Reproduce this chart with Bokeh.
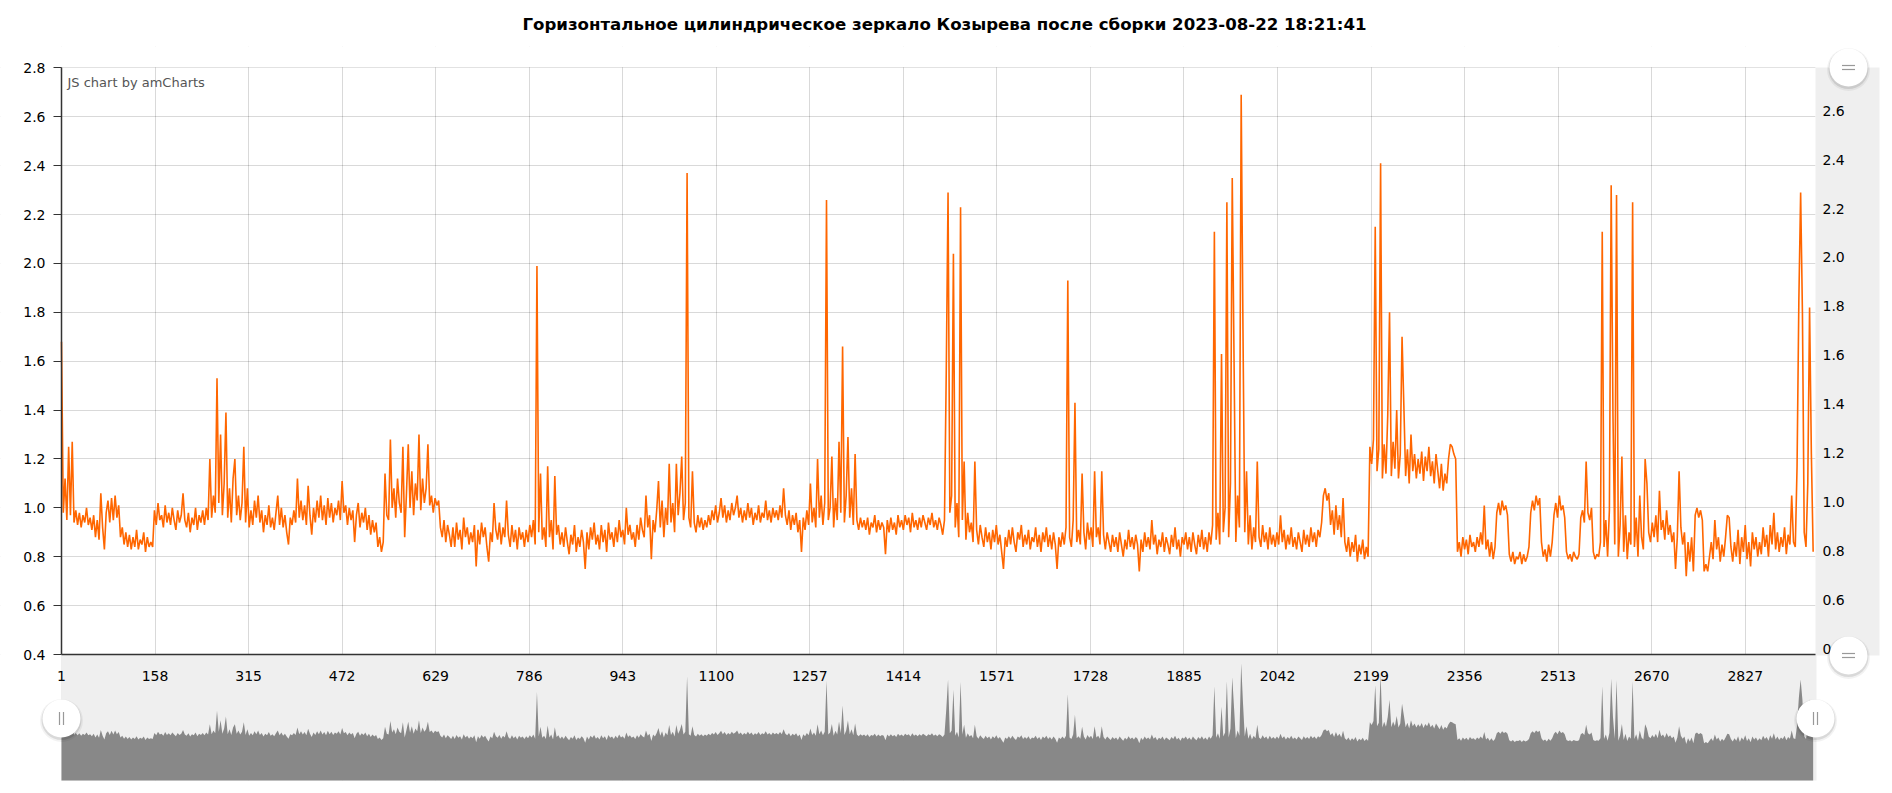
import math
from bokeh.plotting import figure
from bokeh.models import Range1d, LinearAxis, FixedTicker, Label, Grid, PrintfTickFormatter
from bokeh.embed import file_html
from bokeh.resources import INLINE

TITLE = "Горизонтальное цилиндрическое зеркало Козырева после сборки 2023-08-22 18:21:41"
CREDIT = "JS chart by amCharts"

x_ticks = [1, 158, 315, 472, 629, 786, 943, 1100, 1257, 1414, 1571, 1728,
           1885, 2042, 2199, 2356, 2513, 2670, 2827]
y_ticks = [0.4, 0.6, 0.8, 1.0, 1.2, 1.4, 1.6, 1.8, 2.0, 2.2, 2.4, 2.6, 2.8]
right_ticks = [0.4, 0.6, 0.8, 1.0, 1.2, 1.4, 1.6, 1.8, 2.0, 2.2, 2.4, 2.6]

# sample positions along the category axis (every 3rd record)
sample_index = list(range(1, 2942, 3))

values = [
    1.68, 0.98, 1.12, 0.95, 1.25, 0.97, 1.27, 0.94, 0.99, 0.93,
    0.98, 0.92, 0.97, 0.94, 1.00, 0.93, 0.96, 0.91, 0.97, 0.88,
    0.95, 0.87, 1.06, 0.92, 0.83, 0.98, 1.03, 0.94, 1.04, 0.95,
    1.05, 0.96, 1.01, 0.88, 0.92, 0.85, 0.90, 0.84, 0.89, 0.83,
    0.88, 0.84, 0.91, 0.83, 0.87, 0.85, 0.90, 0.82, 0.88, 0.84,
    0.86, 0.84, 0.99, 0.93, 1.02, 0.95, 0.97, 0.92, 1.01, 0.94,
    0.98, 0.93, 1.00, 0.95, 0.91, 0.99, 0.94, 0.97, 1.06, 0.95,
    0.92, 0.98, 0.90, 0.96, 0.93, 1.00, 0.91, 0.97, 0.94, 0.99,
    0.93, 1.00, 0.95, 1.20, 0.96, 1.05, 0.98, 1.53, 1.02, 1.30,
    0.97, 1.10, 1.39, 0.96, 1.08, 0.94, 1.12, 1.20, 0.97, 1.05,
    0.95, 1.02, 1.25, 0.94, 1.08, 0.92, 0.99, 0.93, 1.03, 0.96,
    1.05, 0.94, 0.99, 0.90, 0.97, 0.93, 1.01, 0.92, 0.96, 0.91,
    0.98, 1.05, 0.93, 1.00, 0.92, 0.97, 0.90, 0.85, 0.96, 0.93,
    0.99, 0.94, 1.12, 0.96, 1.03, 0.95, 1.01, 0.93, 1.09, 0.97,
    0.89, 1.00, 0.94, 1.03, 0.96, 1.05, 0.95, 1.01, 0.93, 1.04,
    0.96, 1.02, 0.94, 1.00, 0.97, 1.03, 0.95, 1.11, 0.98, 1.01,
    0.93, 1.00, 0.95, 0.99, 0.86, 0.97, 1.02, 0.92, 0.98, 0.94,
    1.00, 0.91, 0.97, 0.89, 0.95, 0.90, 0.94, 0.84, 0.88, 0.82,
    0.86, 1.14, 0.97, 0.95, 1.28, 1.00, 1.08, 0.96, 1.12, 1.02,
    0.98, 1.25, 0.88, 1.06, 1.26, 1.00, 1.15, 0.97, 1.10, 1.03,
    1.30, 0.99, 1.12, 1.02, 1.08, 1.26, 1.01, 1.05, 0.98, 1.04,
    1.01, 1.03, 0.92, 0.88, 0.95, 0.86, 0.93, 0.89, 0.84, 0.92,
    0.84, 0.94, 0.87, 0.91, 0.83, 0.96, 0.88, 0.92, 0.85, 0.90,
    0.86, 0.93, 0.76, 0.91, 0.85, 0.94, 0.88, 0.92, 0.84, 0.78,
    0.90, 0.86, 1.02, 0.91, 0.87, 0.94, 0.85, 0.92, 0.88, 1.03,
    0.89, 0.84, 0.93, 0.86, 0.91, 0.83, 0.92, 0.87, 0.90, 0.84,
    0.91, 0.86, 0.93, 0.88, 0.95, 0.85, 1.99, 0.90, 1.14, 0.87,
    0.92, 0.84, 1.17, 0.88, 0.95, 0.83, 1.13, 0.89, 0.93, 0.85,
    0.90, 0.84, 0.92, 0.86, 0.81, 0.89, 0.85, 0.93, 0.82, 0.88,
    0.84, 0.91, 0.86, 0.75, 0.90, 0.83, 0.92, 0.87, 0.94, 0.85,
    0.89, 0.83, 0.93, 0.86, 0.91, 0.82, 0.94, 0.87, 0.90, 0.84,
    0.92, 0.86, 0.95, 0.88, 0.91, 0.85, 1.00, 0.89, 0.93, 0.87,
    0.90, 0.84, 0.93, 0.87, 0.96, 0.91, 0.88, 1.05, 0.92, 0.97,
    0.79, 0.95, 0.90, 0.99, 1.11, 0.92, 1.03, 0.88, 1.00, 0.93,
    1.18, 0.94, 1.02, 0.90, 1.18, 0.97, 1.06, 1.21, 0.95, 1.02,
    2.37, 0.96, 0.92, 1.15, 0.94, 0.90, 0.97, 0.92, 0.96, 0.91,
    0.95, 0.92, 0.97, 0.93, 0.99, 0.95, 1.01, 0.94, 0.98, 1.04,
    0.96, 1.01, 0.94, 0.99, 0.95, 1.02, 0.97, 1.00, 1.05, 0.96,
    1.00, 0.94, 0.99, 0.95, 1.02, 0.96, 1.00, 0.93, 0.98, 0.95,
    1.01, 0.94, 0.98, 0.96, 1.03, 0.95, 0.99, 0.94, 1.00, 0.96,
    0.99, 0.95, 1.01, 0.96, 1.08, 0.97, 0.93, 0.99, 0.91, 0.97,
    0.93, 0.98, 0.90, 0.95, 0.82, 0.96, 0.91, 0.99, 0.93, 1.10,
    0.94, 1.00, 0.92, 1.20, 0.96, 1.05, 0.93, 1.02, 2.26, 0.95,
    1.00, 1.21, 0.92, 1.04, 0.95, 1.27, 0.98, 1.66, 0.94, 1.05,
    1.29, 0.96, 1.08, 0.93, 1.22, 0.95, 0.91, 0.96, 0.92, 0.95,
    0.91, 0.96, 0.89, 0.94, 0.92, 0.97, 0.90, 0.95, 0.91, 0.94,
    0.92, 0.81, 0.95, 0.90, 0.96, 0.91, 0.94, 0.89, 0.97, 0.92,
    0.95, 0.91, 0.97, 0.93, 0.96, 0.90, 0.98, 0.92, 0.95, 0.91,
    0.96, 0.92, 0.97, 0.94, 0.91, 0.96, 0.93, 0.98, 0.92, 0.95,
    0.91, 0.96, 0.93, 0.89, 0.95, 1.56, 2.29, 0.98, 1.05, 2.04,
    0.92, 1.02, 0.88, 2.23, 0.95, 1.19, 0.87, 0.98, 0.90, 0.94,
    0.86, 1.19, 0.91, 0.85, 0.93, 0.88, 0.84, 0.92, 0.86, 0.90,
    0.83, 0.91, 0.86, 0.93, 0.85, 0.89, 0.82, 0.75, 0.88, 0.84,
    0.91, 0.85, 0.92, 0.86, 0.82, 0.90, 0.87, 0.93, 0.84, 0.89,
    0.85, 0.91, 0.83, 0.88, 0.86, 0.92, 0.84, 0.89, 0.82, 0.90,
    0.86, 0.92, 0.84, 0.89, 0.83, 0.90, 0.85, 0.75, 0.88, 0.84,
    0.90, 0.85, 0.92, 1.93, 0.88, 0.84, 0.95, 1.43, 0.86, 0.91,
    0.85, 1.14, 0.90, 0.83, 0.94, 0.87, 0.92, 0.84, 1.15, 0.88,
    0.92, 0.85, 1.15, 0.89, 0.83, 0.90, 0.86, 0.82, 0.89, 0.84,
    0.88, 0.82, 0.90, 0.85, 0.80, 0.87, 0.83, 0.91, 0.84, 0.88,
    0.83, 0.89, 0.85, 0.74, 0.87, 0.82, 0.90, 0.84, 0.88, 0.83,
    0.95, 0.85, 0.89, 0.81, 0.87, 0.84, 0.90, 0.82, 0.88, 0.85,
    0.81, 0.89, 0.84, 0.92, 0.83, 0.87, 0.80, 0.88, 0.85, 0.90,
    0.83, 0.88, 0.82, 0.90, 0.85, 0.81, 0.89, 0.84, 0.91, 0.83,
    0.88, 0.82, 0.90, 0.85, 0.93, 2.13, 0.87, 0.98, 0.85, 1.63,
    0.90, 1.00, 2.25, 0.88, 1.10, 2.35, 1.61, 0.86, 1.05, 0.92,
    2.69, 1.73, 0.90, 1.15, 0.85, 0.97, 0.83, 0.92, 0.86, 1.19,
    0.88, 0.84, 0.93, 0.86, 0.90, 0.83, 0.92, 0.85, 0.89, 0.84,
    0.90, 0.85, 0.97, 0.86, 0.91, 0.83, 0.89, 0.85, 0.92, 0.84,
    0.88, 0.83, 0.90, 0.86, 0.82, 0.91, 0.85, 0.89, 0.84, 0.92,
    0.86, 0.90, 0.84, 0.91, 0.88, 0.94, 1.05, 1.08, 1.03, 1.06,
    0.93, 0.99, 0.89, 1.01, 0.91, 0.97, 0.88, 1.04, 0.86, 0.82,
    0.88, 0.80, 0.86, 0.82, 0.89, 0.78, 0.85, 0.81, 0.87, 0.79,
    0.84, 0.80, 1.25, 1.18, 1.28, 2.15, 1.15, 1.24, 2.41, 1.12,
    1.26, 1.14, 1.38, 1.80, 1.13, 1.27, 1.16, 1.40, 1.12, 1.22,
    1.70, 1.42, 1.13, 1.24, 1.10, 1.30, 1.15, 1.22, 1.12, 1.20,
    1.14, 1.23, 1.11, 1.21, 1.15, 1.25, 1.13, 1.19, 1.10, 1.22,
    1.15, 1.08, 1.18, 1.07, 1.14, 1.10, 1.20, 1.26, 1.25, 1.22,
    1.20, 0.82, 0.86, 0.80, 0.88, 0.83, 0.87, 0.81, 0.89, 0.84,
    0.86, 0.82, 0.88, 0.84, 0.90, 0.85, 1.01, 0.83, 0.87, 0.80,
    0.86, 0.79, 0.84, 0.98, 1.02, 0.97, 1.03, 0.99, 1.01, 0.97,
    0.81, 0.78, 0.82, 0.77, 0.80, 0.79, 0.82, 0.77, 0.81, 0.78,
    0.80, 0.84, 0.98, 1.03, 0.99, 1.05, 1.01, 1.04, 0.86, 0.80,
    0.83, 0.78, 0.85, 0.80, 0.86, 0.97, 1.02, 0.96, 1.05, 0.99,
    1.01, 0.96, 0.82, 0.79, 0.81, 0.78, 0.82, 0.80, 0.79, 0.81,
    0.96, 0.99, 0.94, 1.19, 0.98, 0.95, 1.00, 0.82, 0.79, 0.81,
    0.80, 0.86, 2.13, 0.84, 0.95, 0.80, 0.99, 2.32, 1.38, 0.85,
    2.28, 0.80, 0.93, 1.21, 0.82, 0.97, 0.79, 0.90, 0.85, 2.25,
    0.84, 0.96, 0.80, 1.05, 0.88, 0.83, 1.20, 1.10, 0.90, 0.86,
    0.94, 0.88, 0.97, 0.86, 1.07, 0.91, 0.95, 0.87, 0.99, 0.89,
    0.93, 0.86, 0.90, 0.75, 0.88, 1.15, 0.92, 0.85, 0.90, 0.72,
    0.86, 0.78, 0.88, 0.74, 0.97, 1.00, 0.96, 0.99, 0.95, 0.74,
    0.77, 0.74, 0.80, 0.86, 0.79, 0.95, 0.83, 0.88, 0.78, 0.85,
    0.80, 0.88, 0.97, 0.96, 0.84, 0.78, 0.86, 0.80, 0.91, 0.77,
    0.88, 0.82, 0.93, 0.79, 0.86, 0.76, 0.90, 0.83, 0.88, 0.80,
    0.86, 0.81, 0.92, 0.84, 0.89, 0.80, 0.93, 0.85, 0.98, 0.83,
    0.90, 0.82, 0.88, 0.84, 0.92, 0.81, 0.89, 0.85, 1.05, 0.86,
    0.84, 1.17, 1.85, 2.29, 1.80, 0.90, 0.84, 1.10, 1.82, 1.22,
    0.82,
]

# ---------------- layout constants (page pixels) ----------------
FRAME_L, FRAME_R, FRAME_T, FRAME_B = 0, 1888, 45, 790
X1_PX, PX_PER_IDX = 61.0, 0.5958
Y04_PX, PX_PER_UNIT = 653.0, 244.4
SCROLL_BOT_PX = 779.0
SCROLL_ZERO_PX, SCROLL_PX_PER_UNIT = 772.0, 41.0
PLOT_R_PX = 1815.0
PANEL_R_PX = 1879.0
LABEL_SHIFT_PX = 6.0


def xd(px):
    return 1 + (px - X1_PX) / PX_PER_IDX


def yd(px):
    return 0.4 + (Y04_PX - px) / PX_PER_UNIT


def sd(px):
    return (SCROLL_ZERO_PX - px) / SCROLL_PX_PER_UNIT


xs, xe = xd(FRAME_L), xd(FRAME_R)
ys, ye = yd(FRAME_B), yd(FRAME_T)
shift = LABEL_SHIFT_PX / PX_PER_UNIT

p = figure(
    frame_width=FRAME_R - FRAME_L, frame_height=FRAME_B - FRAME_T,
    x_range=Range1d(xs, xe), y_range=Range1d(ys, ye),
    x_axis_location=None, y_axis_location=None,
    min_border_left=0, min_border_right=0, min_border_bottom=0,
    min_border_top=FRAME_T,
    toolbar_location=None, output_backend="svg",
    outline_line_color=None, background_fill_color="white",
    border_fill_color="white", title=TITLE,
)
p.extra_y_ranges = {
    "scroll": Range1d(sd(FRAME_B), sd(FRAME_T)),
    "right": Range1d(ys - shift, ye - shift),
}

p.title.align = "center"
p.title.offset = 8
p.title.text_font = "DejaVu Sans"
p.title.text_font_style = "bold"
p.title.text_font_size = "16.6px"
p.title.text_color = "#000000"
p.title.standoff = 25

# remove auto grids, add own
p.center = []
p.add_layout(Grid(dimension=0, ticker=FixedTicker(ticks=x_ticks),
                  grid_line_color="black", grid_line_alpha=0.15))
p.add_layout(Grid(dimension=1, ticker=FixedTicker(ticks=y_ticks),
                  grid_line_color="black", grid_line_alpha=0.15))

# covers outside plotting area (hide grid outside)
W = dict(fill_color="white", line_color=None)
p.quad(left=[xs], right=[1], bottom=[ys], top=[ye], **W)
p.quad(left=[xs], right=[xe], bottom=[2.8 + 0.8 / PX_PER_UNIT], top=[ye], **W)
p.quad(left=[xs], right=[xe], bottom=[ys], top=[yd(SCROLL_BOT_PX)], **W)
p.quad(left=[xd(PLOT_R_PX)], right=[xe], bottom=[ys], top=[ye], **W)
# right axis panel
p.quad(left=[xd(PLOT_R_PX)], right=[xd(PANEL_R_PX)], bottom=[yd(654)], top=[yd(66)],
       fill_color="#EFEFEF", line_color=None)
# scrollbar background
p.quad(left=[1], right=[xd(1816)], bottom=[yd(SCROLL_BOT_PX)], top=[0.4],
       fill_color="#EFEFEF", line_color=None)

# scrollbar preview graph
p.varea(x=sample_index, y1=sd(SCROLL_BOT_PX), y2=values, y_range_name="scroll",
        fill_color="#888888", fill_alpha=1.0)

# main series
p.line(sample_index, values, line_color="#FF6600", line_width=1.6)

TICK_FONT = "DejaVu Sans"
fmt = PrintfTickFormatter(format="%.1f")
left_axis = LinearAxis(
    fixed_location=1, ticker=FixedTicker(ticks=y_ticks), bounds=(0.4, 2.8),
    formatter=fmt,
    axis_line_color="#333333", axis_line_width=1.5,
    major_tick_line_color="#333333", major_tick_out=8, major_tick_in=0,
    minor_tick_line_color=None, major_label_standoff=8,
    major_label_text_font=TICK_FONT, major_label_text_font_size="14px",
    major_label_text_color="#000000",
)
p.add_layout(left_axis, "left")

bottom_axis = LinearAxis(
    fixed_location=0.4, ticker=FixedTicker(ticks=x_ticks), bounds=(1, xd(PLOT_R_PX)),
    axis_line_color="#333333", axis_line_width=1.5,
    major_tick_line_color=None, major_tick_out=0, major_tick_in=0,
    minor_tick_line_color=None, major_label_standoff=16,
    major_label_text_font=TICK_FONT, major_label_text_font_size="14px",
    major_label_text_color="#000000",
)
p.add_layout(bottom_axis, "below")

right_axis = LinearAxis(
    y_range_name="right", fixed_location=xd(PLOT_R_PX),
    ticker=FixedTicker(ticks=right_ticks), formatter=PrintfTickFormatter(format="%.1f"),
    axis_line_color=None, major_tick_line_color=None,
    major_tick_out=0, major_tick_in=0, minor_tick_line_color=None,
    major_label_standoff=7,
    major_label_text_font=TICK_FONT, major_label_text_font_size="14px",
    major_label_text_color="#000000",
)
p.add_layout(right_axis, "right")

p.add_layout(Label(x=xd(67), y=yd(81), text=CREDIT, text_font="DejaVu Sans",
                   text_font_size="13px", text_color="#555555",
                   text_baseline="middle", text_align="left"))

# buttons / handles
bx_px = [1848, 1848, 61, 1815]
by_px = [66, 654, 717, 717]
bx = [xd(v) for v in bx_px]
p.scatter(bx, [yd(v + 2) for v in by_px], size=43, fill_color="black", fill_alpha=0.05,
          line_color=None, level="overlay")
p.scatter(bx, [yd(v + 1.5) for v in by_px], size=40, fill_color="black", fill_alpha=0.1,
          line_color=None, level="overlay")
p.scatter(bx, [yd(v) for v in by_px], size=38, fill_color="white", line_color=None,
          level="overlay")
# "=" icons
eq_x = [xd(1848)] * 4
eq_y = [yd(66 - 2), yd(66 + 2), yd(654 - 2), yd(654 + 2)]
p.scatter(eq_x, eq_y, marker="dash", size=13, line_color="#999999", line_width=1.2,
          level="overlay")
# "||" icons
bar_x = [xd(61 - 2), xd(61 + 2), xd(1815 - 2), xd(1815 + 2)]
bar_y = [yd(717)] * 4
p.scatter(bar_x, bar_y, marker="dash", size=13, angle=math.pi / 2,
          line_color="#999999", line_width=1.2, level="overlay")

open("out.html", "w").write(file_html(p, INLINE, title=TITLE))
